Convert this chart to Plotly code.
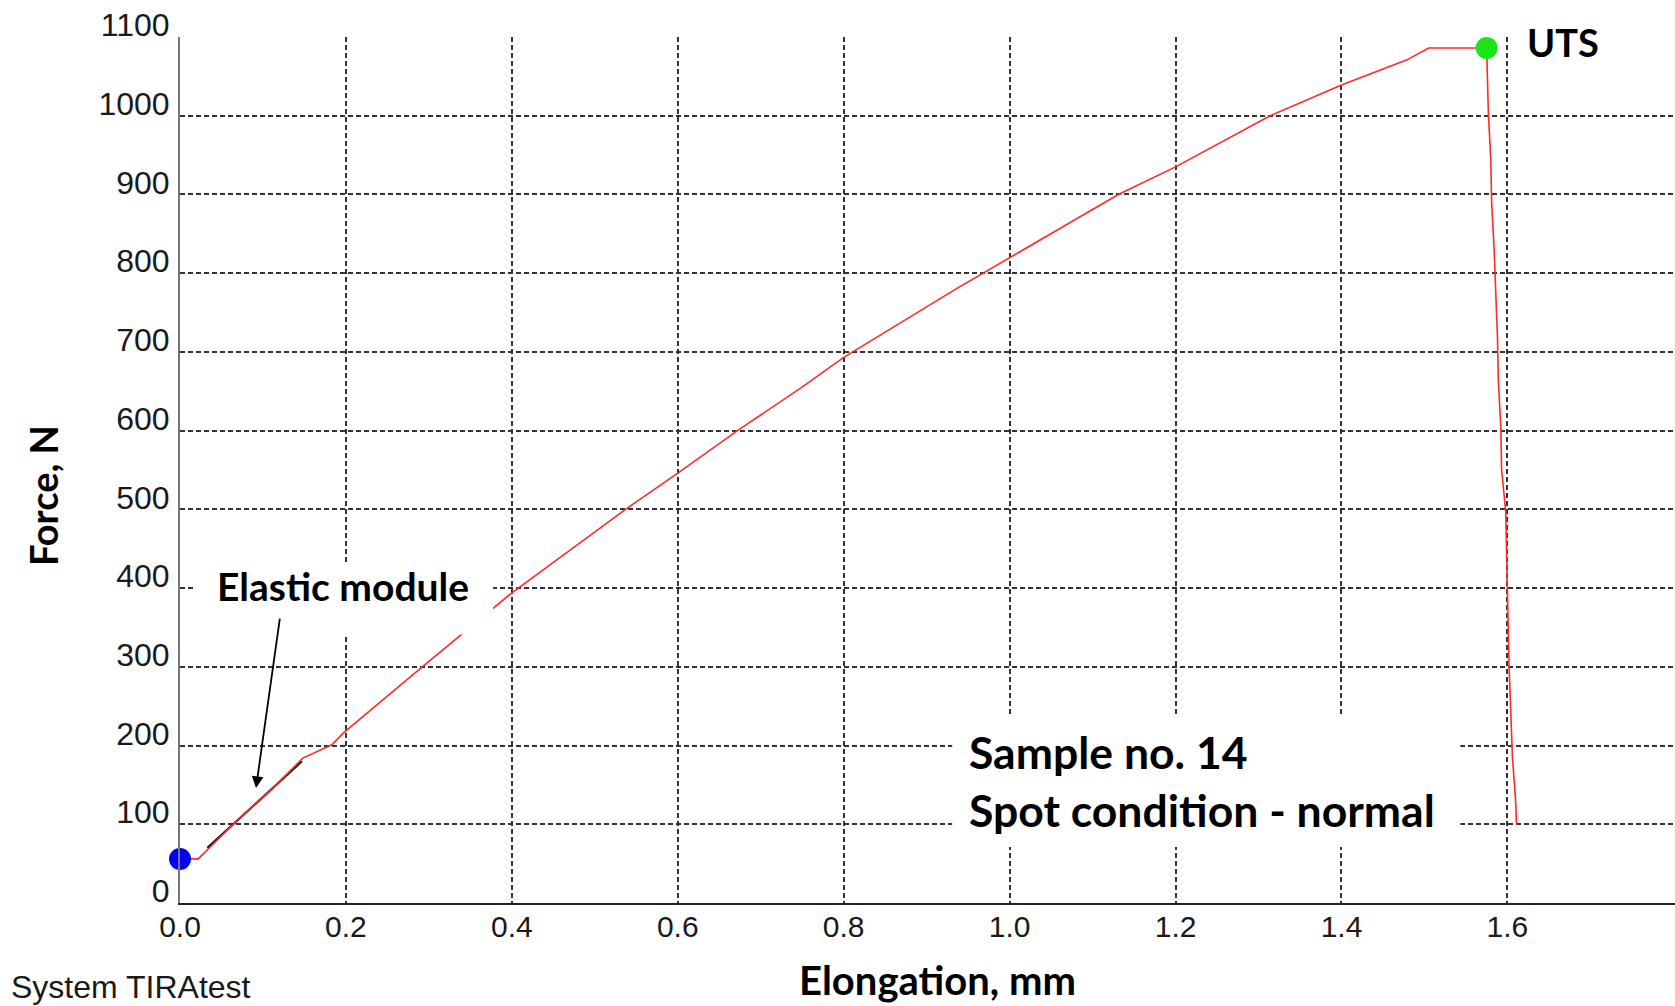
import plotly.graph_objects as go

# ---- data ----
elongation = [0.000, 0.022, 0.064, 0.112, 0.148, 0.183, 0.197, 0.292, 0.400, 0.537,
              0.600, 0.672, 0.748, 0.800, 0.937, 0.968, 1.000, 1.131, 1.200, 1.314,
              1.400, 1.479, 1.505, 1.575,
              1.577, 1.580, 1.581, 1.584, 1.588, 1.589, 1.592, 1.593, 1.598, 1.599,
              1.600, 1.602, 1.604, 1.606, 1.610, 1.611]
force = [56, 56, 100, 146, 184, 201, 216, 300, 394, 500,
         546, 600, 654, 693, 781, 800, 819, 900, 935, 1000,
         1039, 1071, 1086, 1086,
         1004, 944, 889, 830, 719, 665, 605, 550, 497, 449,
         385, 300, 245, 186, 128, 99]

elastic_x = [0.033, 0.147]
elastic_y = [70, 180]

start_x, start_y = [0.0], [56]
uts_x, uts_y = [1.575], [1086]

x_ticks = [0.0, 0.2, 0.4, 0.6, 0.8, 1.0, 1.2, 1.4, 1.6]
x_ticklabels = ["0.0", "0.2", "0.4", "0.6", "0.8", "1.0", "1.2", "1.4", "1.6"]
y_ticks = [0, 100, 200, 300, 400, 500, 600, 700, 800, 900, 1000, 1100]

X_RANGE = [0, 1.802]
Y_RANGE = [0, 1100]

fig = go.Figure()

fig.add_trace(go.Scatter(x=elastic_x, y=elastic_y, mode="lines",
                         line=dict(color="#111111", width=2.2), showlegend=False,
                         hoverinfo="skip"))
fig.add_trace(go.Scatter(x=elongation, y=force, mode="lines",
                         line=dict(color="#ff2a2a", width=1.6), showlegend=False,
                         cliponaxis=False))
fig.add_trace(go.Scatter(x=start_x, y=start_y, mode="markers",
                         marker=dict(color="#0000ff", size=22), showlegend=False,
                         cliponaxis=False))
fig.add_trace(go.Scatter(x=uts_x, y=uts_y, mode="markers",
                         marker=dict(color="#19e619", size=22), showlegend=False,
                         cliponaxis=False))

grid = dict(showgrid=True, gridcolor="#333333", gridwidth=1.6, griddash="5px,3px")
xtickfont = dict(family="Liberation Sans, Arial, sans-serif", size=30, color="#1a1a1a")
ytickfont = dict(family="Liberation Sans, Arial, sans-serif", size=32, color="#1a1a1a")

fig.update_xaxes(range=X_RANGE, tickvals=x_ticks, ticktext=x_ticklabels,
                 showline=True, linecolor="#222222", linewidth=2, zeroline=False,
                 ticks="", tickfont=xtickfont, ticklabelstandoff=-4, **grid)
fig.update_yaxes(range=Y_RANGE, tickvals=y_ticks,
                 showline=True, linecolor="#777777", linewidth=2, zeroline=False,
                 ticks="", tickfont=ytickfont, ticklabelstandoff=2, ticklabelshift=-12,
                 **grid)

# white boxes behind annotation texts (cover grid, as in the reference)
boxes = [
    (0.0181, 0.3774, 341, 432),   # Elastic module
    (0.9308, 1.5433, 71, 239),    # Sample text
    (1.6036, 1.7338, 1058, 1135), # UTS
]
for x0, x1, y0, y1 in boxes:
    fig.add_shape(type="rect", x0=x0, x1=x1, y0=y0, y1=y1, xref="x", yref="y",
                  fillcolor="white", line=dict(width=0), layer="above")

label_font = "Lato, Open Sans, sans-serif"
fig.add_annotation(x=0.197, y=403, xref="x", yref="y", text="<b>Elastic module</b>",
                   showarrow=False, font=dict(family=label_font, size=39, color="black"),
                   xanchor="center", yanchor="middle")
fig.add_annotation(x=0.0916, y=146, ax=0.1206, ay=363, xref="x", yref="y",
                   axref="x", ayref="y", text="", showarrow=True,
                   arrowhead=2, arrowsize=1.3, arrowwidth=1.8, arrowcolor="black")
fig.add_annotation(x=1.6675, y=1094, xref="x", yref="y", text="<b>UTS</b>",
                   showarrow=False, font=dict(family=label_font, size=38, color="black"),
                   xanchor="center", yanchor="middle")
fig.add_annotation(x=0.9490, y=156, xref="x", yref="y",
                   text="<b>Sample no. 14</b><br><b>Spot condition - normal</b>",
                   showarrow=False, align="left",
                   font=dict(family=label_font, size=44.5, color="black"),
                   xanchor="left", yanchor="middle")

# axis titles and footer
fig.add_annotation(x=0.5064, y=-0.0889, xref="paper", yref="paper",
                   text="<b>Elongation, mm</b>", showarrow=False,
                   font=dict(family=label_font, size=40, color="black"),
                   xanchor="center", yanchor="middle")
fig.add_annotation(x=-0.0916, y=0.470, xref="paper", yref="paper",
                   text="<b>Force, N</b>", showarrow=False, textangle=-90,
                   font=dict(family=label_font, size=38, color="black"),
                   xanchor="center", yanchor="middle")
fig.add_annotation(x=-0.1144, y=-0.097, xref="paper", yref="paper",
                   text="System TIRAtest", showarrow=False,
                   font=dict(family="Liberation Sans, Arial, sans-serif", size=32, color="#1a1a1a"),
                   xanchor="left", yanchor="middle")

fig.update_layout(width=1675, height=1006, autosize=False,
                  margin=dict(l=180, r=0, t=37, b=103),
                  plot_bgcolor="white", paper_bgcolor="white",
                  showlegend=False)

fig.write_html("out.html")
